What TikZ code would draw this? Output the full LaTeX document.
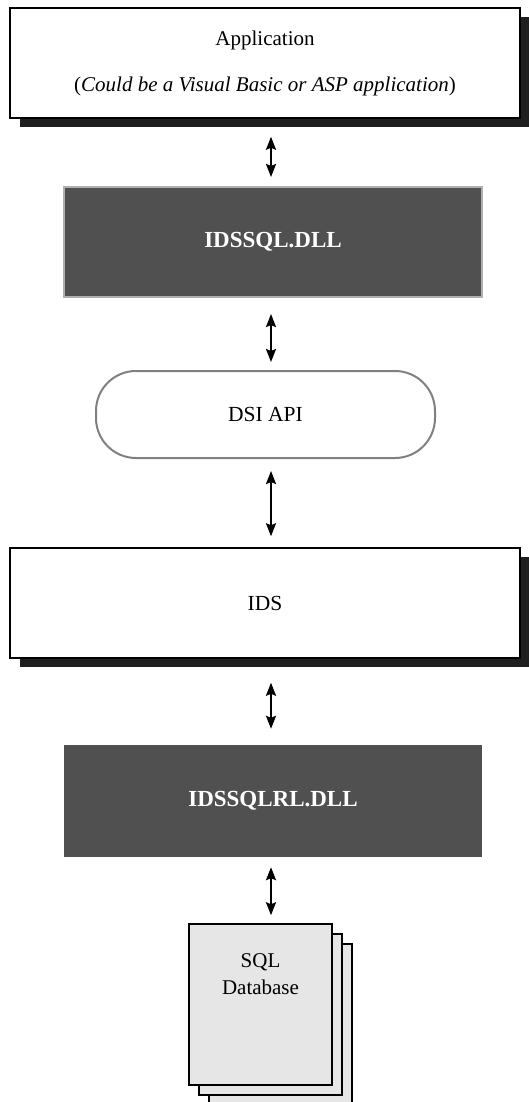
\documentclass[tikz,border=0pt]{standalone}
\usepackage{fontspec}
\setmainfont{Liberation Serif}
\usetikzlibrary{arrows.meta,shadows}
\definecolor{dllgray}{HTML}{505050}
\definecolor{dllrim}{HTML}{B0B0B0}
\definecolor{apigray}{HTML}{808080}
\definecolor{pagegray}{HTML}{E6E6E6}

\begin{document}
\begin{tikzpicture}[x=1pt,y=-1pt,>={Stealth[length=13pt,width=10pt,inset=2pt]},
    every node/.style={font=\fontsize{21.5}{27}\selectfont},
    layer box/.style={draw,line width=1.5pt,fill=white,minimum width=510pt,minimum height=110pt,inner sep=0pt,align=center,
      drop shadow={shadow xshift=10pt,shadow yshift=-9pt,opacity=1,fill=black!88}},
    dll box/.style={fill=dllgray,text=white,minimum width=418pt,minimum height=110pt,inner sep=0pt,font=\fontsize{23}{27}\selectfont\bfseries},
    api box/.style={draw=apigray,line width=2pt,rounded corners=40pt,minimum width=339pt,minimum height=87pt},
    db page/.style={draw,line width=1.5pt,fill=pagegray,minimum width=143pt,minimum height=161pt,
      double copy shadow={shadow xshift=10pt,shadow yshift=-10pt}},
    link/.style={<->,line width=2pt}]
    \useasboundingbox (0,0) rectangle (528,1102);

    \node[layer box,font=\fontsize{21}{46}\selectfont] (app) at (265,63) {Application\\(\textit{Could be a Visual Basic or ASP application})};
    \node[dll box,draw=dllrim,line width=2pt] (dll) at (273,242) {IDSSQL.DLL};
    \node[api box] (dsi) at (265.5,414.5) {DSI API};
    \node[layer box] (ids) at (265,603) {IDS};
    \node[dll box,minimum height=112pt] (rl) at (273,801) {IDSSQLRL.DLL};
    \node[db page,label={[anchor=north,yshift=-27pt,align=center,font=\fontsize{21}{27}\selectfont]north:SQL\\Database}] (db) at (260.5,1004.5) {};

    \coordinate (axis) at (271,0);

    \path[link]
    (app.south -| axis) edge [shorten <=18pt,shorten >=9pt] (dll.north -| axis)
    (dll.south -| axis) edge [shorten <=16pt,shorten >=8pt] (dsi.north -| axis)
    (dsi.south -| axis) edge [shorten <=12pt,shorten >=11pt] (ids.north -| axis)
    (ids.south -| axis) edge [shorten <=24pt,shorten >=16pt] (rl.north -| axis)
    (rl.south -| axis) edge [shorten <=10pt,shorten >=8pt] (db.north -| axis);
\end{tikzpicture}
\end{document}
